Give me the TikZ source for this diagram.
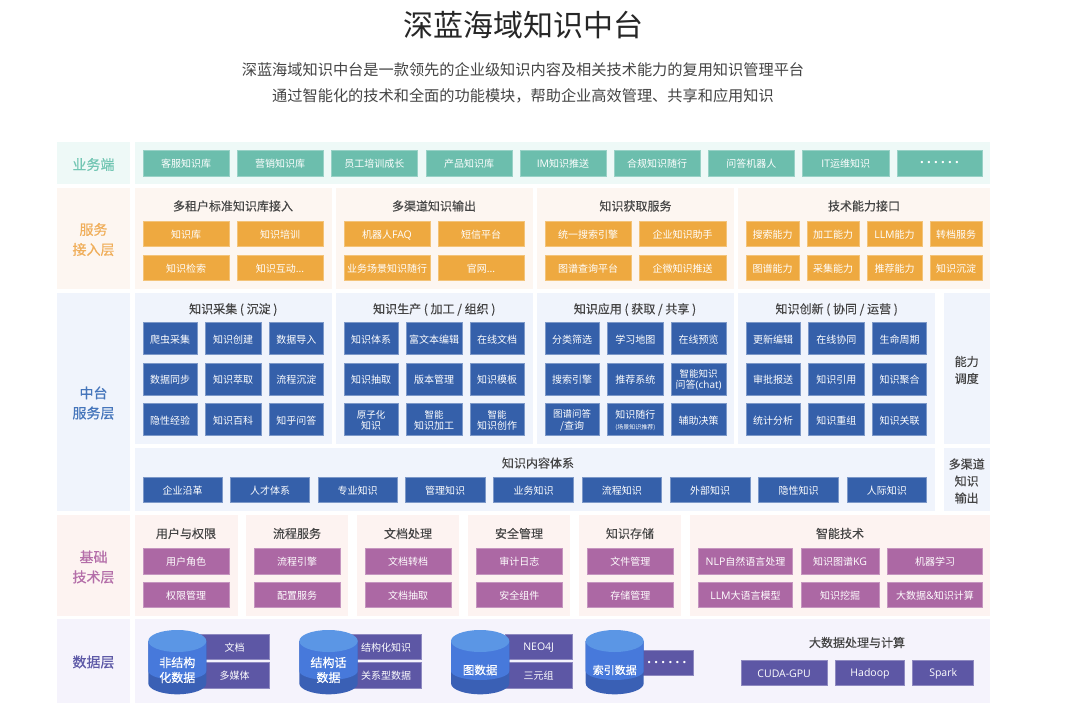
\documentclass[tikz,border=0pt]{standalone}
\usepackage{fontspec}
\setmainfont{Noto Sans CJK SC}
\newfontfamily\medf[FakeBold=0.25]{Noto Sans CJK SC}
\newfontfamily\semif[FakeBold=0.45]{Noto Sans CJK SC}
\newfontfamily\latf{Open Sans}
\newfontfamily\dotf{DejaVu Sans}
\definecolor{tealbox}{HTML}{6CBEAD}\definecolor{tealpanel}{HTML}{EEF9F7}\definecolor{tealtext}{HTML}{72C6B3}
\definecolor{orangebox}{HTML}{EEA940}\definecolor{orangepanel}{HTML}{FDF6F1}\definecolor{orangetext}{HTML}{F0AE5A}
\definecolor{bluebox}{HTML}{3560AA}\definecolor{bluepanel}{HTML}{F0F4FC}\definecolor{bluetext}{HTML}{4575BB}
\definecolor{purplebox}{HTML}{AC68A4}\definecolor{purplepanel}{HTML}{FDF3F1}\definecolor{purpletext}{HTML}{B46EA9}
\definecolor{indigobox}{HTML}{5D57A5}\definecolor{indigopanel}{HTML}{F5F3FC}\definecolor{indigotext}{HTML}{5D59A7}
\definecolor{darktext}{HTML}{444444}
\definecolor{cyltop}{HTML}{5B96E5}\definecolor{cylmid}{HTML}{4779DB}\definecolor{cyllow}{HTML}{3A60B5}
\newcommand{\pn}[6][]{\node[inner sep=0pt,minimum width={(#4-#2)*1pt},minimum height={(#5-#3)*1pt},#1] (#6) at ({(#2+#4)/2},{(#3+#5)/2}) {};}
\newcommand{\bx}[7][]{\node[inner sep=0pt,minimum width={(#4-#2)*1pt},minimum height={(#5-#3)*1pt},#1] (#6) at ({(#2+#4)/2},{(#3+#5)/2}) {};
 \node[inner sep=0pt,align=center,text=white,font=\fontsize{10}{11.5}\selectfont] (#6-t) at ([yshift=-0.8pt]#6.center) {#7};}
\newcommand{\cyl}[5]{%
 \pgfmathsetmacro{\rx}{(#3-#2)/2}%
 \fill[cyllow] (#2,641) -- (#2,683.3) arc[start angle=180,end angle=360,x radius=\rx pt,y radius=11pt] -- (#3,641) -- cycle;
 \fill[cylmid] (#2,641) -- (#2,671) arc[start angle=180,end angle=360,x radius=\rx pt,y radius=9pt] -- (#3,641) -- cycle;
 \fill[cyltop] ({(#2+#3)/2},641) ellipse[x radius=\rx pt,y radius=11pt];
 \node[inner sep=0pt,align=center,text=white,font=\semif\fontsize{#5}{15}\selectfont] (#1) at ({(#2+#3)/2},670) {#4};}
\newcommand{\dotrow}{{\dotf\fontsize{8}{9}\selectfont •\hspace{2.3pt}•\hspace{2.3pt}•\hspace{2.3pt}•\hspace{2.3pt}•\hspace{2.3pt}•}}
\newcommand{\ltn}[1]{{\latf\fontsize{10.5}{11.5}\selectfont #1}}
\newcommand{\sm}{\fontsize{9.5}{11.3}\selectfont}
\tikzset{
 tb/.style={fill=tealbox,draw=tealbox!70!white,line width=0.7pt},
 ob/.style={fill=orangebox,draw=orangebox!70!white,line width=0.7pt},
 bb/.style={fill=bluebox,draw=bluebox!65!white,line width=0.7pt},
 pb/.style={fill=purplebox,draw=purplebox!70!white,line width=0.7pt},
 ib/.style={fill=indigobox,draw=indigobox!70!white,line width=0.7pt},
 layerlabel/.style={font=\semif\fontsize{14}{20}\selectfont,align=center,inner sep=0pt},
 paneltitle/.style={font=\medf\fontsize{12}{14}\selectfont,text=darktext,inner sep=0pt},
 sidelabel/.style={font=\medf\fontsize{12}{17}\selectfont,text=darktext,align=center,inner sep=0pt},
}
\begin{document}
\begin{tikzpicture}[x=1pt,y=-1pt]
\useasboundingbox (0,0) rectangle (1080,709);
\fill[white] (0,0) rectangle (1080,709);
\node[font=\fontsize{30}{34}\selectfont,text=black!85,inner sep=0pt] (title) at (523,25) {深蓝海域知识中台};
\node[font=\fontsize{15.2}{18}\selectfont,text=darktext,inner sep=0pt] (sub1) at (523,70) {深蓝海域知识中台是一款领先的企业级知识内容及相关技术能力的复用知识管理平台};
\node[font=\fontsize{15.2}{18}\selectfont,text=darktext,inner sep=0pt] (sub2) at (523,96) {通过智能化的技术和全面的功能模块，帮助企业高效管理、共享和应用知识};
% business row
\pn[fill=tealpanel]{57}{142}{130}{184}{pa}
\pn[fill=tealpanel]{135}{142}{990}{184}{pb}
\node[layerlabel,text=tealtext] (la) at (93.5,164.5) {业务端};
\bx[tb]{143}{150}{229}{176}{a1}{客服知识库}
\bx[tb]{237}{150}{323}{176}{a2}{营销知识库}
\bx[tb]{331}{150}{417.5}{176}{a3}{员工培训成长}
\bx[tb]{426}{150}{512}{176}{a4}{产品知识库}
\bx[tb]{520}{150}{606}{176}{a5}{\ltn{IM}知识推送}
\bx[tb]{614}{150}{700}{176}{a6}{合规知识随行}
\bx[tb]{708}{150}{794.5}{176}{a7}{问答机器人}
\bx[tb]{802.5}{150}{889}{176}{a8}{\ltn{IT}运维知识}
\bx[tb]{897}{150}{982}{176}{a9}{\dotrow}
% service access
\pn[fill=orangepanel]{57}{188}{130}{289}{pc}
\node[layerlabel,text=orangetext] (lb) at (93.5,239.5) {服务\\接入层};
\pn[fill=orangepanel]{135}{188}{332}{289}{pd}
\pn[fill=orangepanel]{336}{188}{533}{289}{pe}
\pn[fill=orangepanel]{537}{188}{733.7}{289}{pf}
\pn[fill=orangepanel]{738}{188}{990}{289}{pg}
\node[paneltitle] (tb1) at (233,206) {多租户标准知识库接入};
\node[paneltitle] (tb2) at (434,206) {多渠道知识输出};
\node[paneltitle] (tb3) at (635.5,206) {知识获取服务};
\node[paneltitle] (tb4) at (864,206) {技术能力接口};
\bx[ob]{143}{221.3}{229}{246.7}{b11}{知识库}
\bx[ob]{237}{221.3}{323}{246.7}{b12}{知识培训}
\bx[ob]{143}{255}{229}{280.3}{b13}{知识检索}
\bx[ob]{237}{255}{323}{280.3}{b14}{知识互动...}
\bx[ob]{344}{221.3}{430}{246.7}{b21}{机器人\ltn{FAQ}}
\bx[ob]{438}{221.3}{524}{246.7}{b22}{短信平台}
\bx[ob]{344}{255}{430}{280.3}{b23}{业务场景知识随行}
\bx[ob]{438}{255}{524}{280.3}{b24}{官网...}
\bx[ob]{545}{221.3}{631}{246.7}{b31}{统一搜索引擎}
\bx[ob]{639}{221.3}{726}{246.7}{b32}{企业知识助手}
\bx[ob]{545}{255}{631}{280.3}{b33}{图谱查询平台}
\bx[ob]{639}{255}{726}{280.3}{b34}{企微知识推送}
\bx[ob]{746}{221.3}{799}{246.7}{b41}{搜索能力}
\bx[ob]{807}{221.3}{859}{246.7}{b42}{加工能力}
\bx[ob]{867}{221.3}{922}{246.7}{b43}{\ltn{LLM}能力}
\bx[ob]{930}{221.3}{982}{246.7}{b44}{转档服务}
\bx[ob]{746}{255}{799}{280.3}{b45}{图谱能力}
\bx[ob]{807}{255}{859}{280.3}{b46}{采集能力}
\bx[ob]{867}{255}{922}{280.3}{b47}{推荐能力}
\bx[ob]{930}{255}{982}{280.3}{b48}{知识沉淀}
% middle
\pn[fill=bluepanel]{57}{292.7}{130}{510.7}{ph}
\node[layerlabel,text=bluetext] (lc) at (93.5,403) {中台\\服务层};
\pn[fill=bluepanel]{135}{292.7}{332}{443.7}{pi}
\pn[fill=bluepanel]{336}{292.7}{533}{443.7}{pj}
\pn[fill=bluepanel]{537}{292.7}{733.7}{443.7}{pk}
\pn[fill=bluepanel]{738}{292.7}{935}{443.7}{pl}
\pn[fill=bluepanel]{943.5}{292.7}{990}{443.7}{pm}
\pn[fill=bluepanel]{135}{448.3}{935}{510.7}{pn}
\pn[fill=bluepanel]{943.5}{448.3}{990}{510.7}{po}
\node[paneltitle] (tc1) at (233.3,309.5) {知识采集 ( 沉淀 )};
\node[paneltitle] (tc2) at (434.3,309.5) {知识生产 ( 加工 / 组织 )};
\node[paneltitle] (tc3) at (635,309.5) {知识应用 ( 获取 / 共享 )};
\node[paneltitle] (tc4) at (836.7,309.5) {知识创新 ( 协同 / 运营 )};
\node[sidelabel] (sd1) at (966.7,370) {能力\\调度};
\node[sidelabel] (sd2) at (966.7,481) {多渠道\\知识\\输出};
\bx[bb]{143}{322.3}{197}{354.7}{c11}{爬虫采集}
\bx[bb]{205}{322.3}{261}{354.7}{c12}{知识创建}
\bx[bb]{269.3}{322.3}{323.3}{354.7}{c13}{数据导入}
\bx[bb]{143}{363}{197}{395}{c14}{数据同步}
\bx[bb]{205}{363}{261}{395}{c15}{知识萃取}
\bx[bb]{269.3}{363}{323.3}{395}{c16}{流程沉淀}
\bx[bb]{143}{403.3}{197}{435.7}{c17}{隐性经验}
\bx[bb]{205}{403.3}{261}{435.7}{c18}{知识百科}
\bx[bb]{269.3}{403.3}{323.3}{435.7}{c19}{知乎问答}
\bx[bb]{344}{322.3}{398.3}{354.7}{c21}{知识体系}
\bx[bb]{406.3}{322.3}{462}{354.7}{c22}{富文本编辑}
\bx[bb]{470.3}{322.3}{524}{354.7}{c23}{在线文档}
\bx[bb]{344}{363}{398.3}{395}{c24}{知识抽取}
\bx[bb]{406.3}{363}{462}{395}{c25}{版本管理}
\bx[bb]{470.3}{363}{524}{395}{c26}{知识模板}
\bx[bb]{344}{403.3}{398.3}{435.7}{c27}{\sm 原子化\\知识}
\bx[bb]{406.3}{403.3}{462}{435.7}{c28}{\sm 智能\\知识加工}
\bx[bb]{470.3}{403.3}{524}{435.7}{c29}{\sm 智能\\知识创作}
\bx[bb]{545}{322.3}{599.3}{354.7}{c31}{分类筛选}
\bx[bb]{607.3}{322.3}{663.3}{354.7}{c32}{学习地图}
\bx[bb]{671.3}{322.3}{726}{354.7}{c33}{在线预览}
\bx[bb]{545}{363}{599.3}{395}{c34}{搜索引擎}
\bx[bb]{607.3}{363}{663.3}{395}{c35}{推荐系统}
\bx[bb]{671.3}{363}{726}{395}{c36}{\sm 智能知识\\问答{\latf (chat)}}
\bx[bb]{545}{403.3}{599.3}{435.7}{c37}{\sm 图谱问答\\/查询}
\bx[bb]{607.3}{403.3}{663.3}{435.7}{c38}{知识随行\\[-1pt]{\fontsize{6}{8}\selectfont (场景知识推荐)}}
\bx[bb]{671.3}{403.3}{726}{435.7}{c39}{辅助决策}
\bx[bb]{746}{322.3}{800.3}{354.7}{c41}{更新编辑}
\bx[bb]{808.3}{322.3}{864.3}{354.7}{c42}{在线协同}
\bx[bb]{872.3}{322.3}{926.7}{354.7}{c43}{生命周期}
\bx[bb]{746}{363}{800.3}{395}{c44}{审批报送}
\bx[bb]{808.3}{363}{864.3}{395}{c45}{知识引用}
\bx[bb]{872.3}{363}{926.7}{395}{c46}{知识聚合}
\bx[bb]{746}{403.3}{800.3}{435.7}{c47}{统计分析}
\bx[bb]{808.3}{403.3}{864.3}{435.7}{c48}{知识重组}
\bx[bb]{872.3}{403.3}{926.7}{435.7}{c49}{知识关联}
\node[paneltitle] (tc5) at (538,463) {知识内容体系};
\bx[bb]{143}{477.3}{222.3}{502.7}{d1}{企业沿革}
\bx[bb]{230.3}{477.3}{309.7}{502.7}{d2}{人才体系}
\bx[bb]{318}{477.3}{397.3}{502.7}{d3}{专业知识}
\bx[bb]{405.3}{477.3}{485}{502.7}{d4}{管理知识}
\bx[bb]{493.7}{477.3}{573.3}{502.7}{d5}{业务知识}
\bx[bb]{582}{477.3}{661.7}{502.7}{d6}{流程知识}
\bx[bb]{670.3}{477.3}{750}{502.7}{d7}{外部知识}
\bx[bb]{758.7}{477.3}{838.3}{502.7}{d8}{隐性知识}
\bx[bb]{847}{477.3}{926.7}{502.7}{d9}{人际知识}
% base tech
\pn[fill=purplepanel]{57}{515}{130}{616}{pp}
\node[layerlabel,text=purpletext] (ld) at (93.5,567) {基础\\技术层};
\pn[fill=purplepanel]{135}{515}{237.7}{616}{pq}
\pn[fill=purplepanel]{245.7}{515}{348.3}{616}{pr}
\pn[fill=purplepanel]{356.7}{515}{459.3}{616}{ps}
\pn[fill=purplepanel]{468}{515}{570.3}{616}{pt}
\pn[fill=purplepanel]{579}{515}{681.3}{616}{pu}
\pn[fill=purplepanel]{690}{515}{990}{616}{pv}
\node[paneltitle] (te1) at (186,533.5) {用户与权限};
\node[paneltitle] (te2) at (297,533.5) {流程服务};
\node[paneltitle] (te3) at (408,533.5) {文档处理};
\node[paneltitle] (te4) at (519,533.5) {安全管理};
\node[paneltitle] (te5) at (630,533.5) {知识存储};
\node[paneltitle] (te6) at (840,533.5) {智能技术};
\bx[pb]{143}{548.3}{229}{574}{e11}{用户角色}
\bx[pb]{143}{582.3}{229}{607.7}{e12}{权限管理}
\bx[pb]{254}{548.3}{340}{574}{e21}{流程引擎}
\bx[pb]{254}{582.3}{340}{607.7}{e22}{配置服务}
\bx[pb]{365.3}{548.3}{451}{574}{e31}{文档转档}
\bx[pb]{365.3}{582.3}{451}{607.7}{e32}{文档抽取}
\bx[pb]{476.3}{548.3}{562.3}{574}{e41}{审计日志}
\bx[pb]{476.3}{582.3}{562.3}{607.7}{e42}{安全组件}
\bx[pb]{587.3}{548.3}{673.3}{574}{e51}{文件管理}
\bx[pb]{587.3}{582.3}{673.3}{607.7}{e52}{存储管理}
\bx[pb]{698.3}{548.3}{792.7}{574}{e61}{\ltn{NLP}自然语言处理}
\bx[pb]{801}{548.3}{879.3}{574}{e62}{知识图谱\ltn{KG}}
\bx[pb]{887.7}{548.3}{982.3}{574}{e63}{机器学习}
\bx[pb]{698.3}{582.3}{792.7}{607.7}{e64}{\ltn{LLM}大语言模型}
\bx[pb]{801}{582.3}{879.3}{607.7}{e65}{知识挖掘}
\bx[pb]{887.7}{582.3}{982.3}{607.7}{e66}{大数据\ltn{\&}知识计算}
% data
\pn[fill=indigopanel]{57}{619}{130}{703}{pw}
\node[layerlabel,text=indigotext] (le) at (93.5,662) {数据层};
\pn[fill=indigopanel]{135}{619}{990}{703}{px}
\bx[ib]{200}{634}{269.3}{659.3}{f11}{文档}
\bx[ib]{200}{662.7}{269.3}{688}{f12}{多媒体}
\bx[ib]{351}{634}{421}{659.3}{f21}{结构化知识}
\bx[ib]{351}{662.7}{421}{688}{f22}{关系型数据}
\bx[ib]{505}{634}{572.3}{659.3}{f31}{\ltn{NEO4J}}
\bx[ib]{505}{662.7}{572.3}{688}{f32}{三元组}
\bx[ib]{640}{650}{693.7}{675.3}{f41}{\dotrow}
\cyl{g1}{148.3}{206.3}{非结构\\化数据}{12}
\cyl{g2}{299.3}{357.7}{结构话\\数据}{12}
\cyl{g3}{451}{509.3}{图数据}{11.5}
\cyl{g4}{585.7}{643.7}{索引数据}{11}
\node[paneltitle] (th) at (857,642.5) {大数据处理与计算};
\bx[ib]{741.3}{660}{827}{685.3}{h1}{\ltn{CUDA-GPU}}
\bx[ib]{835.3}{660}{904.7}{685.3}{h2}{\ltn{Hadoop}}
\bx[ib]{912.7}{660}{973.7}{685.3}{h3}{\ltn{Spark}}
\end{tikzpicture}
\end{document}
